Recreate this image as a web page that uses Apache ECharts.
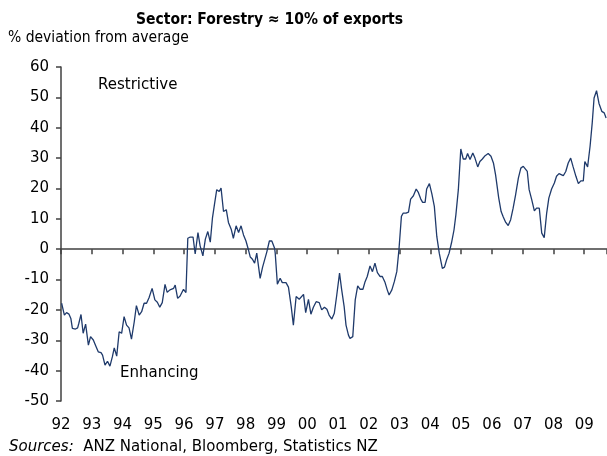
<!DOCTYPE html>
<html>
<head>
<meta charset="utf-8">
<script src="https://cdn.jsdelivr.net/npm/echarts@6/dist/echarts.min.js"></script>
<style>html,body{margin:0;padding:0;background:#fff}#c{width:607px;height:456px}</style>
</head>
<body>
<div id="c"></div>
<script>
// Decimal-year positions of the monthly observations
var dates = [
 1992.02,1992.11,1992.18,1992.26,1992.32,1992.37,1992.47,1992.54,1992.58,1992.65,1992.72,1992.80,1992.89,1992.96,
 1993.05,1993.12,1993.21,1993.30,1993.35,1993.43,1993.51,1993.59,1993.67,1993.73,1993.81,1993.89,1993.97,
 1994.05,1994.13,1994.21,1994.29,1994.38,1994.45,1994.54,1994.62,1994.70,1994.78,1994.86,1994.96,
 1995.05,1995.13,1995.21,1995.29,1995.38,1995.45,1995.54,1995.58,1995.66,1995.71,1995.79,1995.87,1995.98,
 1996.06,1996.12,1996.20,1996.29,1996.36,1996.45,1996.52,1996.61,1996.69,1996.77,1996.85,1996.92,1996.99,
 1997.06,1997.14,1997.20,1997.28,1997.37,1997.44,1997.53,1997.60,1997.69,1997.77,1997.85,1997.93,
 1998.01,1998.09,1998.15,1998.22,1998.29,1998.36,1998.47,1998.55,1998.61,1998.69,1998.77,1998.85,1998.94,1998.96,
 1999.03,1999.12,1999.19,1999.31,1999.39,1999.48,1999.55,1999.64,1999.74,1999.80,1999.88,1999.95,
 2000.04,2000.12,2000.20,2000.29,2000.39,2000.47,2000.56,2000.64,2000.71,2000.80,2000.88,2000.96,
 2001.05,2001.12,2001.20,2001.26,2001.34,2001.39,2001.48,2001.56,2001.64,2001.72,2001.81,2001.88,2001.95,
 2002.04,2002.12,2002.20,2002.28,2002.37,2002.44,2002.53,2002.60,2002.66,2002.75,2002.83,2002.91,2002.98,
 2003.06,2003.12,2003.21,2003.29,2003.36,2003.45,2003.54,2003.61,2003.69,2003.75,2003.83,2003.88,2003.97,
 2004.05,2004.13,2004.21,2004.29,2004.39,2004.46,2004.53,2004.61,2004.69,2004.77,2004.83,2004.91,2004.99,
 2005.07,2005.15,2005.21,2005.29,2005.38,2005.45,2005.54,2005.61,2005.69,2005.78,2005.88,2005.97,
 2006.05,2006.12,2006.22,2006.30,2006.37,2006.45,2006.53,2006.61,2006.69,2006.77,2006.86,2006.94,
 2007.02,2007.07,2007.15,2007.21,2007.29,2007.38,2007.45,2007.54,2007.62,2007.70,2007.78,2007.85,2007.94,
 2008.03,2008.10,2008.18,2008.24,2008.32,2008.40,2008.48,2008.56,2008.64,2008.73,2008.81,2008.89,2008.97,
 2009.02,2009.11,2009.19,2009.26,2009.32,2009.40,2009.48,2009.57,2009.65,2009.71
];
// % deviation from average
var deviation = [
 -17.8,-21.7,-20.9,-21.4,-22.8,-26.1,-26.3,-25.9,-24.4,-21.5,-27.7,-24.7,-31.6,-28.8,
 -29.9,-31.6,-33.8,-34.1,-34.9,-38.2,-36.9,-38.5,-35.4,-32.5,-35.2,-27.2,-27.7,
 -22.2,-25.0,-25.9,-29.6,-23.9,-18.6,-21.7,-20.6,-17.8,-17.8,-16.0,-12.9,
 -16.7,-17.5,-19.1,-17.6,-11.6,-14.2,-13.4,-13.4,-12.9,-11.8,-16.2,-15.4,-13.2,
 -14.3,3.6,4.0,4.0,-1.6,5.5,1.1,-2.2,3.3,5.8,2.3,10.2,15.0,
 19.6,19.0,20.1,12.4,13.0,8.8,6.6,3.6,7.7,5.5,7.7,4.7,
 2.7,-0.2,-2.6,-3.3,-4.6,-1.3,-9.6,-5.9,-5.5,-0.8,2.7,2.7,0.3,-1.3,
 -11.5,-9.6,-11.0,-11.0,-12.5,-18.9,-25.0,-15.6,-16.5,-16.2,-14.9,-20.9,
 -16.5,-21.4,-19.1,-17.3,-17.6,-20.0,-19.1,-19.8,-21.7,-23.0,-21.1,-15.1,
 -7.9,-13.4,-18.9,-25.0,-28.3,-29.4,-28.8,-16.7,-12.1,-13.2,-13.2,-10.7,-9.0,
 -5.5,-7.4,-4.6,-7.7,-9.0,-9.0,-11.0,-13.4,-15.1,-13.4,-10.7,-7.4,-0.2,
 10.8,11.9,11.9,12.2,16.5,17.6,19.8,18.7,16.5,15.4,15.4,19.8,21.6,
 18.2,14.1,4.2,-1.3,-6.3,-5.9,-3.5,-1.3,2.2,6.4,11.3,19.6,33.0,
 29.7,29.7,31.5,29.5,31.7,30.0,27.1,28.9,29.7,30.8,31.5,30.6,
 28.4,24.5,17.0,12.4,10.6,8.8,7.8,9.7,13.5,17.9,23.4,26.7,
 27.3,27.6,25.6,19.6,16.5,12.6,13.5,13.5,5.3,3.8,11.9,16.8,19.8,
 21.8,24.0,24.9,24.5,24.2,25.6,28.4,30.0,27.1,24.0,21.6,22.5,22.5,
 28.9,27.1,33.9,41.6,49.8,52.2,48.0,45.4,44.9,43.2
];
var xMin = 1992, xMax = 2009.74;
var yMin = -50, yMax = 60, yStep = 10;
var yearLabels = ['92','93','94','95','96','97','98','99','00','01','02','03','04','05','06','07','08','09'];

var seriesData = dates.map(function (d, i) { return [d, deviation[i]]; });
var FONT = 'DejaVu Sans';
var FONT_C = 'DejaVu Sans Condensed, DejaVu Sans';

var chart = echarts.init(document.getElementById('c'), null, { renderer: 'canvas' });
chart.setOption({
  animation: false,
  backgroundColor: '#ffffff',
  title: {
    text: 'Sector: Forestry \u2248 10% of exports',
    left: 131, top: 7,
    textStyle: { fontFamily: FONT_C, fontWeight: 'bold', fontSize: 15.5, color: '#000' }
  },
  grid: { left: 61, right: 0, top: 67, bottom: 55, containLabel: false },
  xAxis: [
    {
      type: 'value', min: xMin, max: xMax, interval: 1,
      axisLine: { onZero: true, lineStyle: { color: '#404040', width: 1.5 } },
      axisTick: { show: true, length: 5, lineStyle: { color: '#404040', width: 1.5 } },
      axisLabel: { show: false },
      splitLine: { show: false }
    },
    {
      type: 'value', min: xMin, max: xMax, interval: 1, position: 'bottom',
      axisLine: { show: false, onZero: false },
      axisTick: { show: false },
      splitLine: { show: false },
      axisLabel: {
        show: true, margin: 17, fontFamily: FONT, fontSize: 15, color: '#000',
        showMaxLabel: false,
        formatter: function (v) {
          var k = Math.round(v);
          if (Math.abs(v - k) > 1e-6) return '';
          return yearLabels[k - 1992] || '';
        }
      }
    }
  ],
  yAxis: {
    type: 'value', min: yMin, max: yMax, interval: yStep,
    axisLine: { show: true, lineStyle: { color: '#404040', width: 1.5 } },
    axisTick: { show: true, length: 5, lineStyle: { color: '#404040', width: 1.5 } },
    splitLine: { show: false },
    axisLabel: { margin: 12, fontFamily: FONT, fontSize: 15, color: '#000',
      formatter: function (v) { return v < 0 ? '-' + Math.abs(v) : String(v); } }
  },
  series: [{
    type: 'line', xAxisIndex: 0, data: seriesData, showSymbol: false,
    lineStyle: { color: '#1f3a6b', width: 1.3 }, z: 3
  }],
  graphic: [
    { type: 'text', left: 8, top: 30, style: { text: '% deviation from average', font: '15.5px ' + FONT_C, fill: '#000' } },
    { type: 'text', left: 98, top: 78, style: { text: 'Restrictive', font: '15px ' + FONT, fill: '#000' } },
    { type: 'text', left: 120, top: 366, style: { text: 'Enhancing', font: '15px ' + FONT, fill: '#000' } },
    { type: 'text', left: 9, top: 440, style: {
        text: '{i|Sources:}  ANZ National, Bloomberg, Statistics NZ',
        font: '15px ' + FONT, fill: '#000',
        rich: { i: { fontStyle: 'italic', fontFamily: FONT, fontSize: 15, fill: '#000' } }
    } }
  ]
});
</script>
</body>
</html>
